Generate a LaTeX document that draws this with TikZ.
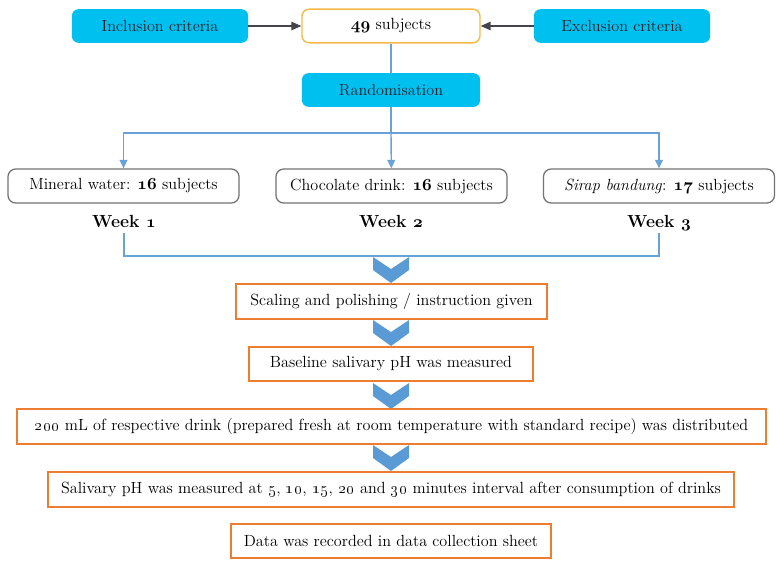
\documentclass[tikz,border=0pt]{standalone}
\usepackage{tikz}
\usetikzlibrary{arrows.meta}
\newcommand\boldnum[1]{{\usefont{OML}{cmm}{b}{it}#1}}
\begin{document}
\begin{tikzpicture}[x=0.025cm,y=-0.025cm,
    font=\fontsize{11.5}{13}\selectfont,
    cyanbox/.style={fill=boxcyan, text=textdark, rounded corners=4.5pt, inner sep=0pt, minimum width=4.4cm, minimum height=0.84cm},
    greybox/.style={draw=boxgrey, fill=white, line width=0.9pt, rounded corners=5.5pt, inner sep=0pt, minimum width=5.775cm, minimum height=0.85cm},
    orangebox/.style={draw=boxorange, fill=white, line width=1.2pt, inner sep=0pt, minimum height=0.86cm},
    weeklabel/.style={font=\fontsize{12.5}{14}\selectfont\bfseries, inner sep=1.5pt, text height=8.5pt, text depth=2.5pt},
    blueline/.style={draw=lineblue, line width=1pt},
    bluearrow/.style={blueline, -{Triangle[length=6pt,width=5.5pt]}},
    darkarrow/.style={draw=textdark!85, line width=0.9pt, -{Triangle[length=7pt,width=6pt]}}]

    \definecolor{boxcyan}{RGB}{0,192,240}
    \definecolor{boxorange}{RGB}{237,125,49}
    \definecolor{boxyellow}{RGB}{245,185,70}
    \definecolor{boxgrey}{RGB}{115,115,115}
    \definecolor{lineblue}{RGB}{105,162,215}
    \definecolor{chevblue}{RGB}{91,155,213}
    \definecolor{textdark}{RGB}{35,35,45}

    \useasboundingbox (0,0) rectangle (784,568);

    % Draw the criteria and the subjects box
    \node[cyanbox] (incl) at (160,26) {Inclusion criteria};
    \node[draw=boxyellow, fill=white, line width=1pt, rounded corners=5pt, inner sep=0pt,
          minimum width=4.45cm, minimum height=0.84cm] (subj) at (391,26) {\boldnum{49} subjects};
    \node[cyanbox] (excl) at (622,26) {Exclusion criteria};
    \draw[darkarrow] (incl) -- (subj);
    \draw[darkarrow] (excl) -- (subj);

    % Draw the randomisation box and split into three groups
    \node[cyanbox, minimum width=4.45cm] (rand) at (391,90) {Randomisation};
    \draw[blueline] (subj) -- (rand);

    \node[greybox] (water) at (123.5,186) {Mineral water: \boldnum{16} subjects};
    \node[greybox] (choc) at (391.5,186) {Chocolate drink: \boldnum{16} subjects};
    \node[greybox] (sirap) at (659,186) {\textit{Sirap bandung}: \boldnum{17} subjects};

    \coordinate (split) at (391,133);
    \draw[blueline] (rand) -- (split);
    \draw[bluearrow] (split) -| (water);
    \draw[bluearrow] (split) -- (choc);
    \draw[bluearrow] (split) -| (sirap);

    % Draw the week labels and join them
    \node[weeklabel] (week1) at (124,223) {Week \boldnum{1}};
    \node[weeklabel] (week2) at (391,223) {Week \boldnum{2}};
    \node[weeklabel] (week3) at (659,223) {Week \boldnum{3}};

    \coordinate (merge) at (391,256);
    \draw[blueline] (week1.south) |- (merge);
    \draw[blueline] (week3.south) |- (merge);

    % Draw the chevrons between the steps
    \foreach \y in {257,320,383,445}
        \fill[chevblue] (373,\y) -- (391,\y+12) -- (409,\y) -- (409,\y+13) -- (391,\y+26) -- (373,\y+13) -- cycle;

    % Draw the steps of the procedure
    \node[orangebox, minimum width=7.775cm] (scale) at (391.5,301.5) {Scaling and polishing / instruction given};
    \node[orangebox, minimum width=7.1cm] (base) at (391,364) {Baseline salivary pH was measured};
    \node[orangebox, minimum width=18.725cm] (drink) at (391.5,426.5) {\oldstylenums{200} mL of respective drink (prepared fresh at room temperature with standard recipe) was distributed};
    \node[orangebox, minimum width=17.15cm] (ph) at (391,489.5) {Salivary pH was measured at \oldstylenums{5}, \oldstylenums{10}, \oldstylenums{15}, \oldstylenums{20} and \oldstylenums{30} minutes interval after consumption of drinks};
    \node[orangebox, minimum width=8cm] (data) at (391,541) {Data was recorded in data collection sheet};

\end{tikzpicture}
\end{document}
